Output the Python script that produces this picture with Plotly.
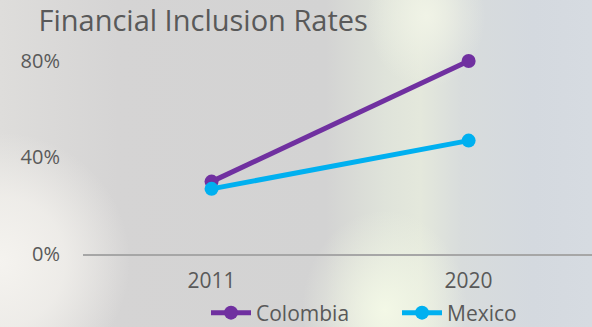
import base64
import plotly.graph_objects as go

years = ["2011", "2020"]
colombia = [0.30, 0.80]
mexico = [0.27, 0.47]
y_ticks = [0, 0.4, 0.8]

W, H = 592, 327

svg = f'''<svg xmlns="http://www.w3.org/2000/svg" width="{W}" height="{H}" viewBox="0 0 {W} {H}" preserveAspectRatio="none">
<defs>
<linearGradient id="b" x1="0" y1="0" x2="1" y2="0">
<stop offset="0" stop-color="#dedddb"/><stop offset="0.2" stop-color="#d5d4d4"/>
<stop offset="0.55" stop-color="#d3d3d3"/><stop offset="0.65" stop-color="#dfe3da"/>
<stop offset="0.71" stop-color="#e4e8dc"/><stop offset="0.78" stop-color="#d8dcdc"/>
<stop offset="0.9" stop-color="#d4d9df"/><stop offset="1" stop-color="#d6dbe1"/></linearGradient>
<radialGradient id="l" cx="0" cy="0.8" r="0.22" gradientTransform="translate(0,0.8) scale(1,1.8) translate(0,-0.8)">
<stop offset="0" stop-color="#f5f3ef" stop-opacity="1"/><stop offset="0.5" stop-color="#f2f0ec" stop-opacity="0.8"/><stop offset="1" stop-color="#f2f0ec" stop-opacity="0"/></radialGradient>
<radialGradient id="c" cx="0.65" cy="0.95" r="0.14" gradientTransform="translate(0.65,0.95) scale(1,2.2) translate(-0.65,-0.95)">
<stop offset="0" stop-color="#f3f8e6" stop-opacity="1"/><stop offset="1" stop-color="#f3f8e6" stop-opacity="0"/></radialGradient>
<radialGradient id="t" cx="0.72" cy="0.05" r="0.1" gradientTransform="translate(0.72,0.05) scale(1,2.2) translate(-0.72,-0.05)">
<stop offset="0" stop-color="#f0f3e6" stop-opacity="1"/><stop offset="1" stop-color="#f0f3e6" stop-opacity="0"/></radialGradient>
</defs>
<rect width="{W}" height="{H}" fill="url(#b)"/>
<rect width="{W}" height="{H}" fill="url(#l)"/>
<rect width="{W}" height="{H}" fill="url(#c)"/>
<rect width="{W}" height="{H}" fill="url(#t)"/>
</svg>'''
bg = "data:image/svg+xml;base64," + base64.b64encode(svg.encode()).decode()

fig = go.Figure()
fig.add_trace(go.Scatter(x=[0, 1], y=colombia, name="Colombia", mode="lines+markers",
                         line=dict(color="#7030a0", width=5), marker=dict(size=14, color="#7030a0")))
fig.add_trace(go.Scatter(x=[0, 1], y=mexico, name="Mexico", mode="lines+markers",
                         line=dict(color="#00b0f0", width=5), marker=dict(size=14, color="#00b0f0")))

fig.update_layout(
    width=W, height=H,
    margin=dict(l=83, r=0, t=40, b=73, autoexpand=False),
    paper_bgcolor="#d5d6d8", plot_bgcolor="rgba(0,0,0,0)",
    font=dict(family="Open Sans, sans-serif", color="#595959", size=18),
    title=dict(text="Financial Inclusion Rates", x=0.065, xanchor="left",
               yref="container", y=1-21/327, yanchor="middle",
               font=dict(size=29, color="#595959")),
    images=[dict(source=bg, xref="paper", yref="paper", x=-83/509, y=1+40/214,
                 sizex=W/509, sizey=H/214, xanchor="left", yanchor="top",
                 sizing="stretch", layer="below")],
    showlegend=True,
    legend=dict(orientation="h", xref="container", yref="container", x=206/W, y=1-313/327,
                xanchor="left", yanchor="middle", font=dict(size=21), itemwidth=40,
                entrywidth=136, entrywidthmode="pixels", bgcolor="rgba(0,0,0,0)"),
)
fig.update_xaxes(range=[-0.5, 1.48], tickvals=[0, 1], ticktext=years, showgrid=False,
                 zeroline=False, showline=True, linecolor="#a6a6a6", linewidth=2,
                 ticks="", ticklabelstandoff=7, tickfont=dict(size=21), fixedrange=True,
                 automargin=False)
fig.update_yaxes(range=[0, 0.887], tickvals=y_ticks, tickformat=".0%", showgrid=False,
                 zeroline=False, showline=False, ticks="", ticklabelstandoff=22,
                 tickfont=dict(size=20), automargin=False)

fig.write_html("out.html")
